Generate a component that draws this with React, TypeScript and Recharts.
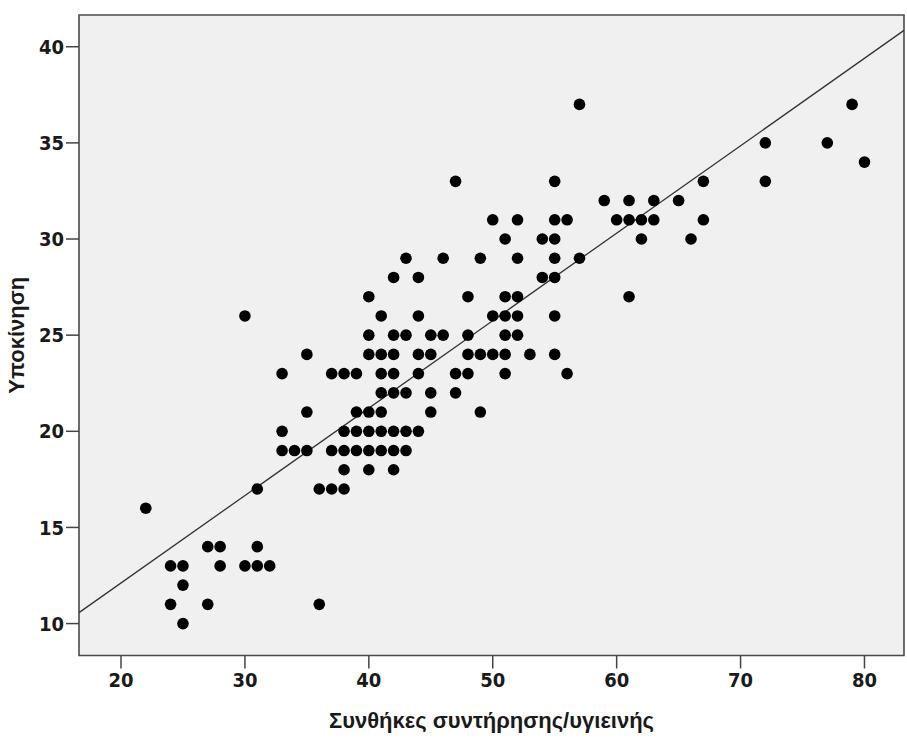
import {
  ScatterChart,
  Scatter,
  XAxis,
  YAxis,
  CartesianGrid,
  ReferenceArea,
} from 'recharts'

// Συνθήκες συντήρησης/υγιεινής (x) and Υποκίνηση (y), one entry per respondent
const hygieneScores = [
  22, 24, 24, 25, 25, 25, 27, 27, 28, 28, 30, 30, 31, 31, 31, 32, 33, 33, 33, 34,
  35, 35, 35, 36, 36, 37, 37, 37, 38, 38, 38, 38, 38, 39, 39, 39, 39,
  40, 40, 40, 40, 40, 40, 40, 41, 41, 41, 41, 41, 41, 41,
  42, 42, 42, 42, 42, 42, 42, 42, 43, 43, 43, 43, 43, 44, 44, 44, 44, 44,
  45, 45, 45, 45, 46, 46, 47, 47, 47, 48, 48, 48, 48, 49, 49, 49, 50, 50, 50,
  51, 51, 51, 51, 51, 51, 52, 52, 52, 52, 52, 53, 54, 54,
  55, 55, 55, 55, 55, 55, 55, 56, 56, 57, 57, 59, 60, 61, 61, 61, 62, 62,
  63, 63, 65, 66, 67, 67, 72, 72, 77, 79, 80,
]
const motivationScores = [
  16, 13, 11, 13, 12, 10, 14, 11, 14, 13, 26, 13, 17, 14, 13, 13, 23, 20, 19, 19,
  24, 21, 19, 17, 11, 23, 19, 17, 23, 20, 19, 18, 17, 23, 21, 20, 19,
  27, 25, 24, 21, 20, 19, 18, 26, 24, 23, 22, 21, 20, 19,
  28, 25, 24, 23, 22, 20, 19, 18, 29, 25, 22, 20, 19, 28, 26, 24, 23, 20,
  25, 24, 22, 21, 29, 25, 33, 23, 22, 27, 25, 24, 23, 29, 24, 21, 31, 26, 24,
  30, 27, 26, 25, 24, 23, 31, 29, 27, 26, 25, 24, 30, 28,
  33, 31, 30, 29, 28, 26, 24, 31, 23, 37, 29, 32, 31, 32, 31, 27, 31, 30,
  32, 31, 32, 30, 33, 31, 35, 33, 35, 37, 34,
]

// fit line as drawn, read at the frame edges
const fitX = [16.61, 83.19]
const fitY = [10.57, 40.85]

const xTicks = [20, 30, 40, 50, 60, 70, 80]
const yTicks = [10, 15, 20, 25, 30, 35, 40]

const X_DOMAIN: [number, number] = [16.61, 83.19]
const Y_DOMAIN: [number, number] = [8.34, 41.65]

const points = hygieneScores.map((x, i) => ({ x, y: motivationScores[i] }))
const fitLine = fitX.map((x, i) => ({ x, y: fitY[i] }))

const TICK_STYLE = {
  fontSize: 20,
  fontWeight: 700,
  fill: '#1a1a1a',
  fontFamily: "'Liberation Sans Narrow', 'DejaVu Sans Condensed', sans-serif",
}
const TITLE_STYLE = {
  fontSize: 22,
  fontWeight: 700,
  fill: '#1a1a1a',
  fontFamily: "'Liberation Sans', Arial, sans-serif",
}

function BlackDot(props: any) {
  const { cx, cy } = props
  if (cx == null || cy == null) return <g />
  return <circle cx={cx} cy={cy} r={5.8} fill="#000" />
}

function NoDot() {
  return <g />
}

export default function App() {
  return (
    <div style={{ position: 'absolute', left: 0, top: 0, width: 907, height: 743, background: '#fff' }}>
      <ScatterChart
        width={907}
        height={743}
        margin={{ top: 15, right: 3, bottom: 7.5, left: 0 }}
      >
        <CartesianGrid fill="#f0f0f0" horizontal={false} vertical={false} />
        <XAxis
          type="number"
          dataKey="x"
          domain={X_DOMAIN}
          allowDataOverflow
          ticks={xTicks}
          height={80}
          axisLine={false}
          tickLine={{ stroke: '#444', strokeWidth: 1.5 }}
          tickSize={13}
          tickMargin={4}
          tick={TICK_STYLE}
          label={{
            value: 'Συνθήκες συντήρησης/υγιεινής',
            position: 'insideBottom',
            offset: 8,
            style: TITLE_STYLE,
          }}
        />
        <YAxis
          type="number"
          dataKey="y"
          domain={Y_DOMAIN}
          allowDataOverflow
          ticks={yTicks}
          width={79}
          axisLine={false}
          tickLine={{ stroke: '#444', strokeWidth: 1.5 }}
          tickSize={13}
          tickMargin={2}
          tick={TICK_STYLE}
          label={{
            value: 'Υποκίνηση',
            angle: -90,
            position: 'insideLeft',
            offset: 16,
            style: { ...TITLE_STYLE, textAnchor: 'middle' },
          }}
        />
        <ReferenceArea
          x1={X_DOMAIN[0]}
          x2={X_DOMAIN[1]}
          y1={Y_DOMAIN[0]}
          y2={Y_DOMAIN[1]}
          fill="none"
          stroke="#4a4a4a"
          strokeWidth={1.6}
          ifOverflow="visible"
        />
        <Scatter
          data={fitLine}
          line={{ stroke: '#333', strokeWidth: 1.3 }}
          shape={NoDot}
          isAnimationActive={false}
        />
        <Scatter data={points} shape={BlackDot} isAnimationActive={false} />
      </ScatterChart>
    </div>
  )
}
